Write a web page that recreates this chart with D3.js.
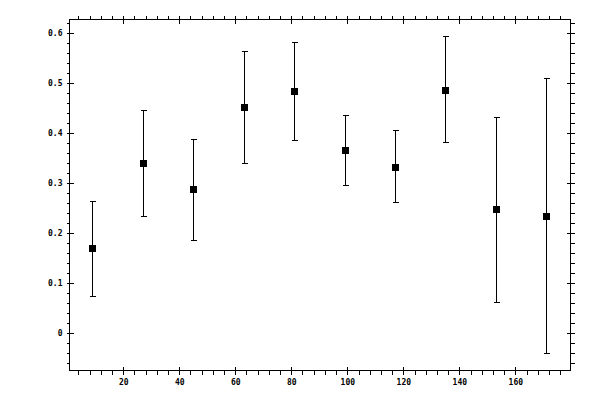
<!DOCTYPE html>
<html>
<head>
<meta charset="utf-8">
<script src="https://cdn.jsdelivr.net/npm/d3@7"></script>
<style>
  body { margin: 0; background: #fff; }
  text { font-family: "DejaVu Sans Mono", monospace; font-size: 8px; font-weight: bold; fill: #000; }
</style>
</head>
<body>
<svg id="chart" width="600" height="400"></svg>
<script>
// values
var xValues = [9, 27, 45, 63, 81, 99, 117, 135, 153, 171];
var yValues = [0.169, 0.339, 0.288, 0.451, 0.485, 0.367, 0.333, 0.487, 0.247, 0.235];
var yHigh   = [0.265, 0.445, 0.387, 0.565, 0.582, 0.436, 0.405, 0.594, 0.433, 0.511];
var yLow    = [0.073, 0.234, 0.185, 0.339, 0.385, 0.295, 0.261, 0.381, 0.063, -0.040];

var xMajor = [20, 40, 60, 80, 100, 120, 140, 160];
var yMajor = [0, 0.1, 0.2, 0.3, 0.4, 0.5, 0.6];

var svg = d3.select("#chart");
// note: "top" is taken by window.top, so use plot* names
var plotL = 69.5, plotR = 570.5, plotT = 19.5, plotB = 370.5;

var x = d3.scaleLinear().domain([0.8, 179.7]).range([plotL, plotR]);
var y = d3.scaleLinear().domain([-0.075, 0.627]).range([plotB, plotT]);

// minor ticks every 4 on x, every 0.02 on y
var xMinor = d3.range(4, 180, 4).filter(function (d) { return d % 20 != 0; });
var yMinor = d3.range(-6, 63, 2).map(function (d) { return d / 100; })
              .filter(function (d) { return Math.round(d * 100) % 10 != 0; });

var yFmt = function (d) { return d == 0 ? "0" : d3.format(".1f")(d); };

function addAxis(axis, tx, ty) {
    var g = svg.append("g")
        .attr("transform", "translate(" + tx + "," + ty + ")")
        .call(axis);
    g.select(".domain").remove();
    g.selectAll("line").attr("stroke", "#000").attr("shape-rendering", "crispEdges");
    g.attr("font-family", null).attr("font-size", null);
    return g;
}

// bottom
addAxis(d3.axisBottom(x).tickValues(xMajor).tickSize(4).tickPadding(5).tickFormat(d3.format("d")), 0, plotB);
addAxis(d3.axisTop(x).tickValues(xMajor).tickSize(4).tickFormat(""), 0, plotB);
addAxis(d3.axisBottom(x).tickValues(xMinor).tickSize(4).tickFormat(""), 0, plotB);
// top
addAxis(d3.axisTop(x).tickValues(xMajor).tickSize(4).tickFormat(""), 0, plotT);
addAxis(d3.axisBottom(x).tickValues(xMajor).tickSize(4).tickFormat(""), 0, plotT);
addAxis(d3.axisTop(x).tickValues(xMinor).tickSize(4).tickFormat(""), 0, plotT);
// left
addAxis(d3.axisLeft(y).tickValues(yMajor).tickSize(3).tickPadding(4).tickFormat(yFmt), plotL, 0);
addAxis(d3.axisRight(y).tickValues(yMajor).tickSize(4).tickFormat(""), plotL, 0);
addAxis(d3.axisLeft(y).tickValues(yMinor).tickSize(3).tickFormat(""), plotL, 0);
// right
addAxis(d3.axisRight(y).tickValues(yMajor).tickSize(4).tickFormat(""), plotR, 0);
addAxis(d3.axisLeft(y).tickValues(yMajor).tickSize(4).tickFormat(""), plotR, 0);
addAxis(d3.axisRight(y).tickValues(yMinor).tickSize(4).tickFormat(""), plotR, 0);

// frame
svg.append("rect")
    .attr("x", plotL).attr("y", plotT)
    .attr("width", plotR - plotL).attr("height", plotB - plotT)
    .attr("fill", "none").attr("stroke", "#000")
    .attr("shape-rendering", "crispEdges");

var idx = d3.range(xValues.length);
var g = svg.append("g").attr("shape-rendering", "crispEdges");

// error bars
g.selectAll(".bar").data(idx).enter().append("line")
    .attr("class", "bar")
    .attr("x1", function (i) { return Math.round(x(xValues[i])) + 0.5; })
    .attr("x2", function (i) { return Math.round(x(xValues[i])) + 0.5; })
    .attr("y1", function (i) { return y(yLow[i]); })
    .attr("y2", function (i) { return y(yHigh[i]); })
    .attr("stroke", "#000").attr("stroke-width", 1.2);

// caps, top and bottom
[yHigh, yLow].forEach(function (arr) {
    g.selectAll(null).data(idx).enter().append("line")
        .attr("x1", function (i) { return Math.round(x(xValues[i])) - 2.5; })
        .attr("x2", function (i) { return Math.round(x(xValues[i])) + 3.5; })
        .attr("y1", function (i) { return Math.round(y(arr[i])) + 0.5; })
        .attr("y2", function (i) { return Math.round(y(arr[i])) + 0.5; })
        .attr("stroke", "#000").attr("stroke-width", 1.2);
});

// square markers
g.selectAll(".pt").data(idx).enter().append("rect")
    .attr("class", "pt")
    .attr("x", function (i) { return Math.round(x(xValues[i])) - 3; })
    .attr("y", function (i) { return Math.round(y(yValues[i])) - 3; })
    .attr("width", 7).attr("height", 7)
    .attr("fill", "#000");
</script>
</body>
</html>
